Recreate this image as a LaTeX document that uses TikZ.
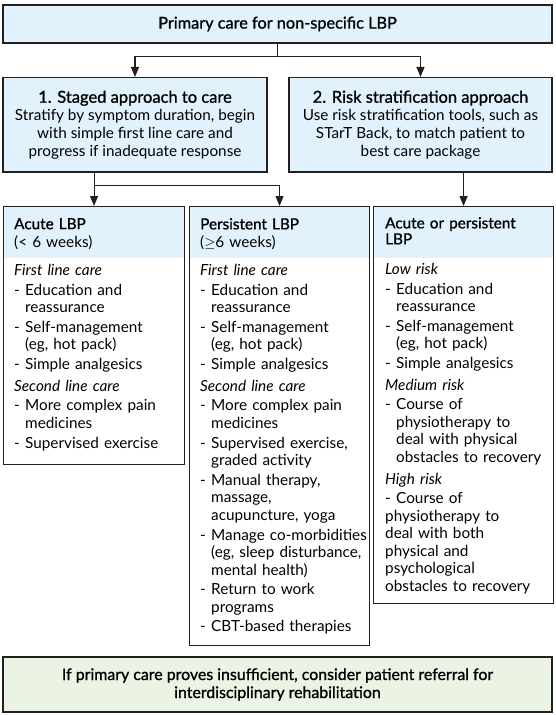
\documentclass[tikz,border=0pt]{standalone}
\usepackage{fontspec}
\setmainfont{Lato}
\newfontfamily\medfont{Lato}[FakeBold=1]
\usetikzlibrary{arrows.meta}

\definecolor{boxblue}{HTML}{E1F2FC}
\definecolor{boxgreen}{HTML}{EBF3E5}
\definecolor{frame}{HTML}{231F20}

% list helpers for the column boxes
\newcommand{\itm}[1]{\par\vspace{2.2pt}\hangindent=11pt\hangafter=1\makebox[11pt][l]{-}{\let\\\newline#1}}
\newcommand{\subhd}[1]{\par\vspace{4.2pt}\textit{#1}}

\begin{document}
\begin{tikzpicture}[x=1pt, y={(0pt,-1pt)},
  box/.style={draw=frame, line width=1.1pt, inner sep=0pt, align=center},
  bluebox/.style={box, fill=boxblue},
  colbox/.style={draw=frame, line width=1.1pt, inner sep=0pt, anchor=north west},
  coltext/.style={anchor=north west, inner sep=0pt, text width=170pt, align=left,
    font=\fontsize{15.3}{17.5}\selectfont},
  colhead/.style={coltext, font=\fontsize{15.3}{18.5}\selectfont},
  arr/.style={draw=frame, line width=1.1pt, -{Triangle[width=8pt,length=10pt]}},
  bodyfont/.style={font=\fontsize{15.3}{17.8}\selectfont}]

\useasboundingbox (0,0) rectangle (555,715);

% Top level
\node[bluebox, minimum width=549pt, minimum height=38pt,
  font=\medfont\fontsize{16.3}{18}\selectfont] (primary) at (277.5,24)
  {Primary care for non-specific LBP};

% Two approaches
\node[bluebox, minimum width=264pt, minimum height=94.5pt, bodyfont] (staged) at (135,124.75)
  {{\medfont\fontsize{16.5}{18}\selectfont 1. Staged approach to care}\\
   Stratify by symptom duration, begin\\ with simple first line care and\\ progress if inadequate response};
\node[bluebox, minimum width=263pt, minimum height=94.5pt, bodyfont] (risk) at (420.5,124.75)
  {{\medfont\fontsize{16.5}{18}\selectfont 2. Risk stratification approach}\\
   Use risk stratification tools, such as\\ STarT Back, to match patient to\\ best care package};

% Column headers (shaded part)
\fill[boxblue] (3,206) rectangle (184,258);
\fill[boxblue] (189,206) rectangle (369,258);
\fill[boxblue] (373,206) rectangle (553,258);

% Column frames
\node[colbox, minimum width=181pt, minimum height=258pt] (acute) at (3,206) {};
\node[colbox, minimum width=180pt, minimum height=439pt] (persist) at (189,206) {};
\node[colbox, minimum width=180pt, minimum height=397pt] (riskcol) at (373,206) {};

% Acute LBP
\node[colhead] (acutehead) at (14,218) {{\medfont Acute LBP}\\(< 6 weeks)};
\node[coltext] (acutebody) at (14,264) {%
  \textit{First line care}
  \itm{Education and\\reassurance}
  \itm{Self-management\\(eg, hot pack)}
  \itm{Simple analgesics}
  \subhd{Second line care}
  \itm{More complex pain\\medicines}
  \itm{Supervised exercise}};

% Persistent LBP
\node[colhead] (persisthead) at (200,218) {{\medfont Persistent LBP}\\($\geq$6 weeks)};
\node[coltext] (persistbody) at (200,264) {%
  \textit{First line care}
  \itm{Education and\\reassurance}
  \itm{Self-management\\(eg, hot pack)}
  \itm{Simple analgesics}
  \subhd{Second line care}
  \itm{More complex pain\\medicines}
  \itm{Supervised exercise,\\graded activity}
  \itm{Manual therapy,\\massage,\\acupuncture, yoga}
  \itm{Manage co-morbidities\\(eg, sleep disturbance,\\mental health)}
  \itm{Return to work\\programs}
  \itm{CBT-based therapies}};

% Acute or persistent LBP
\node[coltext, font=\fontsize{15.3}{16}\selectfont] (riskhead) at (385,217)
  {\medfont Acute or persistent\\LBP};
\node[coltext] (riskbody) at (385,263) {%
  \textit{Low risk}
  \itm{Education and\\reassurance}
  \itm{Self-management\\(eg, hot pack)}
  \itm{Simple analgesics}
  \subhd{Medium risk}
  \itm{Course of\\physiotherapy to\\deal with physical\\obstacles to recovery}
  \subhd{High risk}
  \itm{Course of\\physiotherapy to\\deal with both\\physical and\\psychological\\obstacles to recovery}};

% Referral
\node[box, fill=boxgreen, minimum width=549pt, minimum height=55pt,
  font=\medfont\fontsize{15.9}{18}\selectfont] (referral) at (277.5,684.5)
  {If primary care proves insufficient, consider patient referral for\\
   interdisciplinary rehabilitation};

% Connectors
\draw[arr] (primary.south) -- ++(0,13) -| (staged.north);
\draw[arr] (primary.south) -- ++(0,13) -| (risk.north);
\draw[arr] (staged.south -| acute.north) -- (acute.north);
\draw[arr] (staged.south -| acute.north) -- ++(0,13) -| (persist.north);
\draw[arr] (risk.south -| riskcol.north) -- (riskcol.north);

\end{tikzpicture}
\end{document}
